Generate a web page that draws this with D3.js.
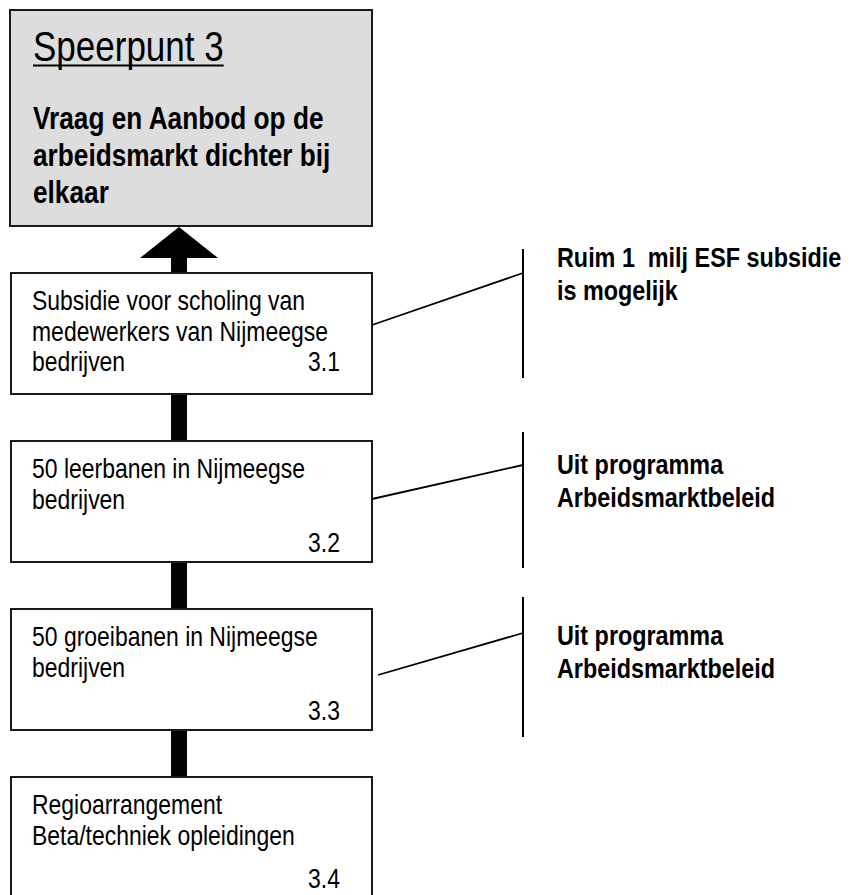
<!DOCTYPE html>
<html>
<head>
<meta charset="utf-8">
<script src="https://cdn.jsdelivr.net/npm/d3@7"></script>
<style>
body{margin:0;background:#fff}
svg text{font-family:"Liberation Sans",Arial,sans-serif;fill:#000;white-space:pre}
</style>
</head>
<body>
<svg id="chart"></svg>
<script>
// content
var titleText = "Speerpunt 3"
var goalLines = ["Vraag en Aanbod op de","arbeidsmarkt dichter bij","elkaar"]
var stepCodes = ["3.1","3.2","3.3","3.4"]
var stepLines = [
    ["Subsidie voor scholing van","medewerkers van Nijmeegse","bedrijven"],
    ["50 leerbanen in Nijmeegse","bedrijven"],
    ["50 groeibanen in Nijmeegse","bedrijven"],
    ["Regioarrangement","Beta/techniek opleidingen"]
]
var noteLines = [
    ["Ruim 1  milj ESF subsidie","is mogelijk"],
    ["Uit programma","Arbeidsmarktbeleid"],
    ["Uit programma","Arbeidsmarktbeleid"]
]

// layout of the hand placed callouts, offsets from the top of their box
var noteLayout = [
    {lineTop:-24, lineBottom:105, fromX:372, fromY:52, toY:0, textY:-6},
    {lineTop:-9, lineBottom:127, fromX:372, fromY:58, toY:24, textY:33},
    {lineTop:-12, lineBottom:128, fromX:378, fromY:66, toY:24, textY:36}
]

var width = 857
var height = 895
var narrow = 0.82   // Arial Narrow is Arial squeezed to 82%

var svg = d3.select("#chart")
    .attr("width",width)
    .attr("height",height)

var box = {left:11, right:372, height:121}
var goal = {x:10, y:10, w:362, h:216}
var midX = 179
var shaftW = 16

var yScale = d3.scaleLinear()
    .domain([0,stepLines.length-1])
    .range([273,777])

var narrowText = function(sel,x,y,txt,size,bold)
{
    return sel.append("text")
        .attr("transform","translate("+x+","+y+") scale("+narrow+",1)")
        .style("font-size",size+"px")
        .style("font-weight",bold ? "bold" : "normal")
        .text(txt)
}

// connecting bars (drawn first, boxes cover their ends)
svg.selectAll("rect.shaft")
    .data(stepLines)
    .enter()
    .append("rect")
    .attr("class","shaft")
    .attr("x",midX-shaftW/2)
    .attr("y",function(d,i){return i==0 ? 250 : yScale(i-1)+box.height})
    .attr("width",shaftW)
    .attr("height",function(d,i){return i==0 ? yScale(0)-250 : yScale(i)-yScale(i-1)-box.height})
    .attr("fill","#000")

// arrow head under the goal box
svg.append("path")
    .attr("d","M"+midX+","+(goal.y+goal.h+1)+" L"+(midX+39)+",258 L"+(midX-39)+",258 Z")
    .attr("fill","#000")

// goal box
svg.append("rect")
    .attr("x",goal.x)
    .attr("y",goal.y)
    .attr("width",goal.w)
    .attr("height",goal.h)
    .attr("fill","#dddddd")
    .attr("stroke","#1a1a1a")
    .attr("stroke-width",2)

var t = narrowText(svg,33,61,titleText,42.7,false)
var tw = t.node().getComputedTextLength()*narrow
svg.append("line")
    .attr("x1",33).attr("x2",33+tw)
    .attr("y1",65.5).attr("y2",65.5)
    .attr("stroke","#000")
    .attr("stroke-width",2)

goalLines.forEach(function(l,i)
{
    narrowText(svg,33,129+i*37,l,32,true)
})

// step boxes
var steps = svg.selectAll("g.step")
    .data(stepLines)
    .enter()
    .append("g")
    .attr("class","step")

steps.append("rect")
    .attr("x",box.left)
    .attr("y",function(d,i){return yScale(i)})
    .attr("width",box.right-box.left)
    .attr("height",box.height)
    .attr("fill","#fff")
    .attr("stroke","#1a1a1a")
    .attr("stroke-width",2)

steps.each(function(lines,i)
{
    var g = d3.select(this)
    var top = yScale(i)
    lines.forEach(function(l,j)
    {
        narrowText(g,32,top+37+j*30.5,l,28,false)
    })
    var codeY = lines.length==3 ? top+37+61 : top+37+74
    narrowText(g,340,codeY,stepCodes[i],28,false)
        .attr("text-anchor","end")
})

// callouts
noteLayout.forEach(function(n,i)
{
    var top = yScale(i)
    svg.append("line")
        .attr("x1",523).attr("x2",523)
        .attr("y1",top+n.lineTop).attr("y2",top+n.lineBottom)
        .attr("stroke","#000")
        .attr("stroke-width",2)
    svg.append("line")
        .attr("x1",n.fromX).attr("y1",top+n.fromY)
        .attr("x2",523).attr("y2",top+n.toY)
        .attr("stroke","#000")
        .attr("stroke-width",1.8)
    noteLines[i].forEach(function(l,j)
    {
        narrowText(svg,557,top+n.textY+j*33,l,28.5,true)
    })
})
</script>
</body>
</html>
